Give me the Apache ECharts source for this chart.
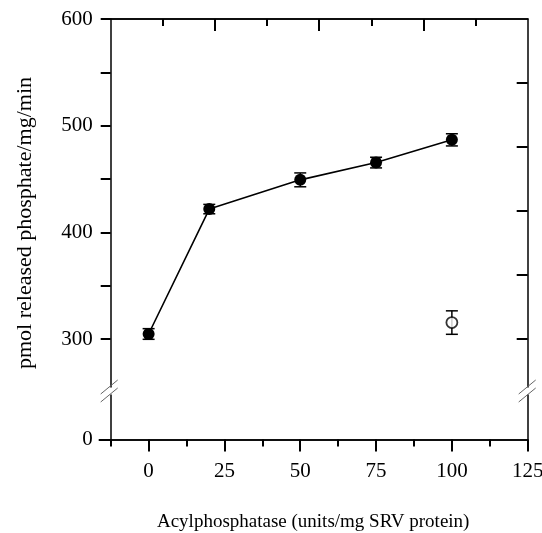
<!DOCTYPE html>
<html><head><meta charset="utf-8">
<script src="https://cdn.jsdelivr.net/npm/echarts@6/dist/echarts.min.js"></script>
<style>html,body{margin:0;padding:0;background:#fff}#c{width:542px;height:533px}</style>
</head><body><div id="c"></div>
<script>
// ---- data ----
const xValues = [0, 20, 50, 75, 100];
const yValues = [304.7, 421.8, 449.2, 465.4, 486.7];
const yErrors = [5, 4.4, 6.5, 5, 5.7];
const openX = [100];
const openY = [315.4];
const openErr = [11];
// ---- ticks ----
const xMajorTicks = [0, 25, 50, 75, 100, 125];
const xMinorTicks = [-12.5, 12.5, 37.5, 62.5, 87.5, 112.5];
const topShortTicks = [4.6875, 39.0625, 73.4375, 107.8125];
const topLongTicks = [21.875, 56.25, 90.625];
const yTicksUpper = [300, 350, 400, 450, 500, 550, 600];
const yLabelsUpper = [300, 400, 500, 600];
const yLabelsLower = [0];
const rightTicks = [300, 360, 420, 480, 540];
const xTitle = 'Acylphosphatase (units/mg SRV protein)';
const yTitle = 'pmol released phosphate/mg/min';

const FONT = 'Liberation Serif';
const BLACK = '#000';
const chart = echarts.init(document.getElementById('c'), null, {renderer: 'canvas'});

function axisBase(extra) {
  return Object.assign({
    type: 'value',
    splitLine: {show: false},
    axisLine: {show: true, onZero: false, lineStyle: {color: BLACK, width: 1.5}},
    axisLabel: {show: false},
    axisTick: {show: false}
  }, extra);
}

function errRender(params, api) {
  const x = api.value(0), y = api.value(1), e = api.value(2);
  const t = api.coord([x, y + e]), b = api.coord([x, y - e]);
  const hw = 6;
  const st = {stroke: BLACK, lineWidth: 1.5};
  return {type: 'group', children: [
    {type: 'line', shape: {x1: t[0], y1: t[1], x2: b[0], y2: b[1]}, style: st},
    {type: 'line', shape: {x1: t[0] - hw, y1: t[1], x2: t[0] + hw, y2: t[1]}, style: st},
    {type: 'line', shape: {x1: b[0] - hw, y1: b[1], x2: b[0] + hw, y2: b[1]}, style: st}
  ]};
}

const filledErr = xValues.map((x, i) => [x, yValues[i], yErrors[i]]);
const openErrData = openX.map((x, i) => [x, openY[i], openErr[i]]);
const labelStyle = {color: BLACK, fontFamily: FONT, fontSize: 21};

const option = {
  animation: false,
  backgroundColor: '#fff',
  grid: [
    {left: 110.7, right: 14.3, top: 19, height: 368, outerBoundsMode: 'none', containLabel: false},
    {left: 110.7, right: 14.3, top: 395, height: 44.5, outerBoundsMode: 'none', containLabel: false}
  ],
  xAxis: [
    axisBase({gridIndex: 0, position: 'top', min: -12.5, max: 125,
      axisTick: {show: true, inside: true, length: 7, customValues: topShortTicks, lineStyle: {color: BLACK, width: 2}}}),
    axisBase({gridIndex: 0, position: 'top', min: -12.5, max: 125,
      axisTick: {show: true, inside: true, length: 12, customValues: topLongTicks, lineStyle: {color: BLACK, width: 2}}}),
    axisBase({gridIndex: 1, position: 'bottom', min: -12.5, max: 125,
      axisTick: {show: true, inside: false, length: 7, customValues: xMinorTicks, lineStyle: {color: BLACK, width: 2}}}),
    axisBase({gridIndex: 1, position: 'bottom', min: -12.5, max: 125,
      axisTick: {show: true, inside: false, length: 12, customValues: xMajorTicks, lineStyle: {color: BLACK, width: 2}},
      axisLabel: Object.assign({show: true, customValues: xMajorTicks, margin: 21, hideOverlap: false}, labelStyle),
      name: xTitle, nameLocation: 'middle', nameGap: 73,
      nameTextStyle: {color: BLACK, fontFamily: FONT, fontSize: 19, padding: [0, 12, 0, 0]}})
  ],
  yAxis: [
    axisBase({gridIndex: 0, position: 'left', min: 255, max: 600,
      axisTick: {show: true, inside: false, length: 10, customValues: yTicksUpper, lineStyle: {color: BLACK, width: 2}},
      axisLabel: Object.assign({show: true, customValues: yLabelsUpper, margin: 18}, labelStyle),
      name: yTitle, nameLocation: 'middle', nameGap: 74,
      nameTextStyle: {color: BLACK, fontFamily: FONT, fontSize: 22, padding: [0, 40, 0, 0]}}),
    axisBase({gridIndex: 0, position: 'right', min: 255, max: 600,
      axisTick: {show: true, inside: true, length: 11, customValues: rightTicks, lineStyle: {color: BLACK, width: 2}}}),
    axisBase({gridIndex: 1, position: 'left', min: 0, max: 45,
      axisTick: {show: true, inside: false, length: 12, customValues: yLabelsLower, lineStyle: {color: BLACK, width: 2}},
      axisLabel: Object.assign({show: true, customValues: yLabelsLower, margin: 18}, labelStyle)}),
    axisBase({gridIndex: 1, position: 'right', min: 0, max: 45})
  ],
  series: [
    {type: 'custom', xAxisIndex: 0, yAxisIndex: 0, renderItem: errRender, data: filledErr, z: 2, silent: true},
    {type: 'custom', xAxisIndex: 0, yAxisIndex: 0, renderItem: errRender, data: openErrData, z: 2, silent: true},
    {type: 'line', xAxisIndex: 0, yAxisIndex: 0, data: xValues.map((x, i) => [x, yValues[i]]),
      symbol: 'circle', symbolSize: 12, showSymbol: true,
      lineStyle: {color: BLACK, width: 1.6}, itemStyle: {color: BLACK}, z: 3},
    {type: 'scatter', xAxisIndex: 0, yAxisIndex: 0, data: openX.map((x, i) => [x, openY[i]]),
      symbol: 'circle', symbolSize: 11,
      itemStyle: {color: '#fff', borderColor: BLACK, borderWidth: 1.8}, z: 4}
  ]
};
chart.setOption(option);

// axis-break slashes placed from the grids' own coordinates
const xl = chart.convertToPixel({xAxisIndex: 0}, -12.5);
const xr = chart.convertToPixel({xAxisIndex: 0}, 125);
const yUp = chart.convertToPixel({yAxisIndex: 0}, 255);
const yLo = chart.convertToPixel({yAxisIndex: 2}, 45);
function slash(cx, cy) {
  return {type: 'line', shape: {x1: cx - 9, y1: cy + 7, x2: cx + 8, y2: cy - 7},
    style: {stroke: '#666', lineWidth: 1}, z: 10};
}
chart.setOption({graphic: [
  slash(xl - 1, yUp), slash(xl - 1, yLo),
  slash(xr, yUp), slash(xr, yLo)
]});
</script>
</body></html>
